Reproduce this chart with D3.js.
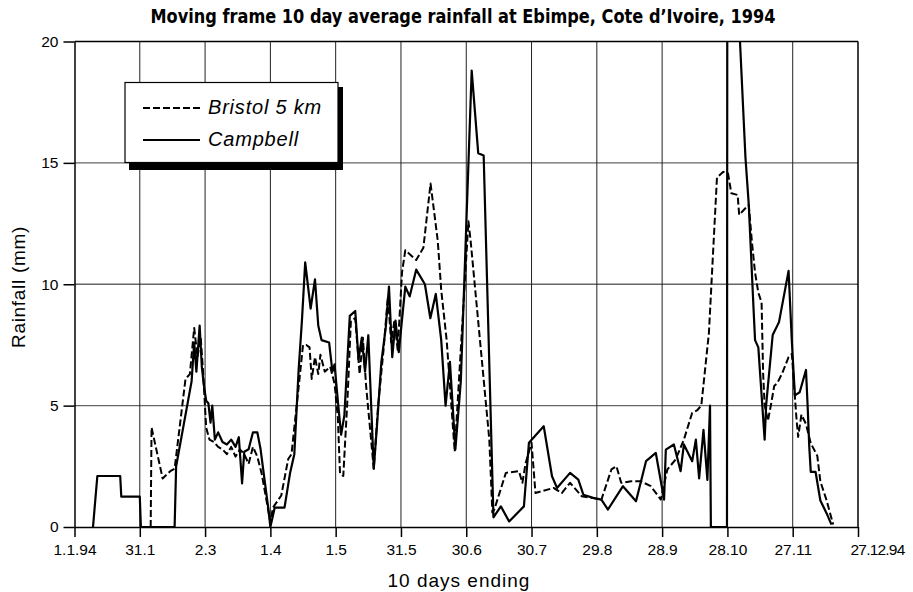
<!DOCTYPE html>
<html><head><meta charset="utf-8">
<script src="https://cdn.jsdelivr.net/npm/d3@7"></script>
<style>body{margin:0;background:#fff}svg{display:block}</style>
</head><body><svg id="c" width="913" height="592"></svg>
<script>
const tickDays = [0,30,60,90,120,150,180,210,240,270,300,330,360];
const tickLabels = ["1.1.94","31.1","2.3","1.4","1.5","31.5","30.6","30.7","29.8","28.9","28.10","27.11","27.12.94"];
const yTickValues = [0,5,10,15,20];
const seriesNames = ["Bristol 5 km","Campbell"];

const bristolDays = [35,35.4,40.5,44,46,51,53,55,56.5,58,59,60.5,62,64,66,68,70,72,74,76,78,80,82,84,86,88,90,91.2,95,98.2,99.7,103.5,105,106.5,108,109,110.5,112,113,115,117.5,119.5,121,122,123.5,125.5,127,129,131,132.5,134,137.5,139.5,142,144,145.5,147,148.5,150.5,152,157,160.3,163.6,166.9,168.5,171,174.7,181,182,190.6,192,192.9,198.2,204.2,205.8,207.3,210,211.8,220.1,223.9,227.7,233,237.6,242.1,246.7,249,251.2,255.8,260.3,264.8,269.4,272.4,276.2,280,283.8,286,288,291.5,295.2,298.1,300.3,301.8,304.7,305.4,307.6,309.8,311.3,312.7,314.2,315.7,316.4,317.1,318.6,320,321.5,323,325.2,328.1,329.6,331.7,332.5,334,336.1,338.3,341.3,342.7,345.6,348.6];
const bristolValues = [0,4.1,2.0,2.3,2.4,6.1,6.3,8.2,7.0,7.8,6.5,4.1,3.6,3.5,3.3,3.2,3.0,3.3,2.9,3.2,3.0,2.6,3.3,2.9,2.2,1.2,0.2,0.8,1.3,2.8,3.0,6.2,7.5,7.5,7.4,6.1,7.0,6.3,7.1,6.4,6.6,5.9,4.5,2.2,2.1,5.4,8.5,8.6,6.3,7.8,5.8,2.4,5.0,7.3,9.5,7.6,8.5,7.3,10.5,11.4,11.0,11.5,14.15,11.8,9.76,7.7,3.1,12.6,11.8,3.6,0.6,0.72,2.23,2.30,1.82,2.64,3.47,1.40,1.61,1.40,1.82,1.27,1.20,1.13,2.37,2.50,1.82,1.88,1.88,1.68,1.13,2.37,2.78,3.60,4.70,4.8,5.0,8.0,14.4,14.63,14.56,13.75,13.68,12.86,13.07,13.27,11.70,10.48,9.66,9.25,6.34,5.03,4.37,5.03,5.81,5.94,6.34,7.0,7.13,4.5,3.71,4.63,4.24,3.45,2.93,1.88,1.09,0.1];

const campbellDays = [8.5,10.5,21,21.5,30,30.5,46,46.7,53.8,55,56,57.5,58.5,59.5,60.5,61.5,62.5,63.3,64.5,66,68,70,72,74,75.5,77,78,80,82,84,85.5,89,90,92,96.5,99,101,103,104.5,106,108.5,110.5,112,113.5,117,118.5,119.5,121,122.5,124,126.5,129,130.5,132,133.5,135,137.5,139,141,143,144.5,146,147.5,149,152,154,157,161,163.5,166,168.5,170.5,172.5,175,177.5,182.5,185.5,188,192.5,195.9,199.7,206.5,208.8,215.6,219.4,221.7,227.7,231.5,233.8,238.3,242.1,245.1,252,258,262.6,267.1,270.9,271.7,275.4,278.5,280,283.8,285.5,287,289,290.8,292,292.4,299.8,300,308.3,309.8,312,312.7,314.2,317.1,317.8,320.8,323.7,328.1,329.6,331,333.2,336.1,336.9,337.6,338.3,340.5,342.7,345.6,347.8];
const campbellValues = [0,2.1,2.1,1.25,1.25,0,0,2.5,6.0,7.6,6.4,8.3,6.6,5.8,5.2,5.1,4.3,5.0,3.6,3.9,3.5,3.4,3.6,3.3,3.7,1.8,3.1,3.2,3.9,3.9,3.2,0.8,0,0.8,0.8,2.2,3.0,6.5,8.5,10.9,9.0,10.2,8.3,7.7,7.6,6.4,6.7,5.2,3.8,4.6,8.7,8.9,6.9,7.8,6.4,7.9,2.4,4.2,6.8,8.2,9.9,7.0,8.5,7.2,9.9,9.5,10.6,10.0,8.6,9.6,7.7,5.0,6.8,3.2,6.0,18.8,15.4,15.3,0.4,0.85,0.23,0.85,3.47,4.15,2.09,1.61,2.23,1.95,1.33,1.2,1.13,0.72,1.68,1.06,2.71,3.05,1.13,3.19,3.40,2.30,3.40,2.71,3.6,2.0,4.0,1.94,5.0,0,0,31,15.2,13.3,9.0,7.7,7.4,3.6,5.03,7.91,8.44,10.55,7.65,5.42,5.55,6.47,4.9,3.32,2.27,2.27,1.09,0.56,0.1];

const pL = 74.5, pR = 858, pT = 41.5, pB = 527;
const svg = d3.select("#c");
const x = d3.scaleLinear().domain([0,360]).range([pL,pR]);
const y = d3.scaleLinear().domain([0,20]).range([pB,pT]);
const FONT = "'Liberation Sans', Arial, Helvetica, sans-serif";

// title
svg.append("text").attr("x",463).attr("y",23).attr("text-anchor","middle")
  .attr("font-family","'Liberation Sans Narrow','DejaVu Sans Condensed',sans-serif")
  .attr("font-weight","bold").attr("font-size",19)
  .attr("textLength",625).attr("lengthAdjust","spacingAndGlyphs")
  .text("Moving frame 10 day average rainfall at Ebimpe, Cote d\u2019Ivoire, 1994");

// horizontal grid
svg.append("g").selectAll("line").data(yTickValues.filter(v=>v>0&&v<20)).join("line")
  .attr("x1",pL).attr("x2",pR).attr("y1",d=>y(d)).attr("y2",d=>y(d))
  .attr("stroke","#666").attr("stroke-width",1.3);
// vertical grid
svg.append("g").selectAll("line").data(tickDays.slice(1,-1)).join("line")
  .attr("x1",d=>x(d)).attr("x2",d=>x(d)).attr("y1",pT).attr("y2",pB)
  .attr("stroke","#222").attr("stroke-width",1);
// frame top & right
svg.append("line").attr("x1",pL).attr("x2",pR).attr("y1",pT).attr("y2",pT).attr("stroke","#000").attr("stroke-width",1.5);
svg.append("line").attr("x1",pR).attr("x2",pR).attr("y1",pT).attr("y2",pB).attr("stroke","#000").attr("stroke-width",1.5);

// axes
const xAxis = d3.axisBottom(x).tickValues(tickDays).tickFormat((d,i)=>tickLabels[i]).tickSize(10).tickSizeOuter(0);
const gx = svg.append("g").attr("transform",`translate(0,${pB})`).call(xAxis);
gx.select(".domain").attr("stroke","#000").attr("stroke-width",1.5);
gx.selectAll(".tick line").attr("stroke","#000").attr("stroke-width",1.5);
gx.selectAll(".tick text").attr("font-family",FONT).attr("font-size",15.5).attr("fill","#000").attr("dy","0.97em");
gx.selectAll(".tick text").filter((d,i)=>i===tickDays.length-1)
  .attr("x",19).attr("letter-spacing",-0.8);

const yAxis = d3.axisLeft(y).tickValues(yTickValues).tickSize(11).tickSizeOuter(0).tickPadding(5);
const gy = svg.append("g").attr("transform",`translate(${pL},0)`).call(yAxis);
gy.select(".domain").attr("stroke","#000").attr("stroke-width",1.5);
gy.selectAll(".tick line").attr("stroke","#000").attr("stroke-width",1.5);
gy.selectAll(".tick text").attr("font-family",FONT).attr("font-size",15.5).attr("fill","#000");

// axis titles
svg.append("text").attr("x",459).attr("y",587).attr("text-anchor","middle")
  .attr("font-family",FONT).attr("font-size",19).attr("letter-spacing",1).text("10 days ending");
svg.append("text").attr("transform","translate(25,287) rotate(-90)").attr("text-anchor","middle")
  .attr("font-family",FONT).attr("font-size",19).attr("letter-spacing",0.7).text("Rainfall (mm)");

// clip
svg.append("clipPath").attr("id","clip").append("rect")
  .attr("x",pL).attr("y",pT).attr("width",pR-pL).attr("height",pB-pT);

const line = d3.line().x(d=>x(d[0])).y(d=>y(d[1]));
const bristol = bristolDays.map((d,i)=>[d,bristolValues[i]]);
const campbell = campbellDays.map((d,i)=>[d,campbellValues[i]]);
const plot = svg.append("g").attr("clip-path","url(#clip)");
plot.append("path").datum(campbell).attr("d",line).attr("fill","none")
  .attr("stroke","#000").attr("stroke-width",2.2).attr("stroke-linejoin","round");
plot.append("path").datum(bristol).attr("d",line).attr("fill","none")
  .attr("stroke","#000").attr("stroke-width",2).attr("stroke-dasharray","7,3").attr("stroke-linejoin","round");

// legend
const lg = svg.append("g");
lg.append("rect").attr("x",129).attr("y",87).attr("width",214).attr("height",83).attr("fill","#000");
lg.append("rect").attr("x",125).attr("y",82.5).attr("width",213).attr("height",80).attr("fill","#fff").attr("stroke","#000").attr("stroke-width",1.2);
const items = [{name:seriesNames[0],dash:"7,3",yy:108},{name:seriesNames[1],dash:null,yy:140}];
items.forEach(it=>{
  lg.append("line").attr("x1",143).attr("x2",200).attr("y1",it.yy).attr("y2",it.yy)
    .attr("stroke","#000").attr("stroke-width",2).attr("stroke-dasharray",it.dash);
  lg.append("text").attr("x",208).attr("y",it.yy+6).attr("font-family",FONT).attr("font-style","italic")
    .attr("font-size",20).attr("letter-spacing",0.8).text(it.name);
});
</script></body></html>
